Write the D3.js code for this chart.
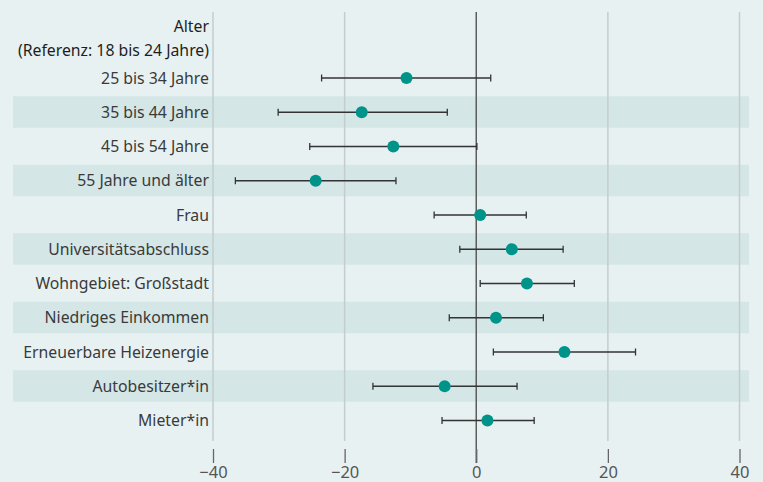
<!DOCTYPE html>
<html>
<head>
<meta charset="utf-8">
<script src="https://cdn.jsdelivr.net/npm/d3@7"></script>
<style>
  html, body { margin: 0; padding: 0; background: #e8f1f2; }
  svg { display: block; font-family: "Noto Sans", "Open Sans", sans-serif; }
</style>
</head>
<body>
<svg id="chart" width="763" height="482"></svg>
<script>
// Regression coefficients with confidence intervals
const categories = [
  "25 bis 34 Jahre",
  "35 bis 44 Jahre",
  "45 bis 54 Jahre",
  "55 Jahre und älter",
  "Frau",
  "Universitätsabschluss",
  "Wohngebiet: Großstadt",
  "Niedriges Einkommen",
  "Erneuerbare Heizenergie",
  "Autobesitzer*in",
  "Mieter*in"
];
const estimates = [-10.6, -17.4, -12.6, -24.4, 0.6, 5.4, 7.7, 3.0, 13.4, -4.8, 1.7];
const lower     = [-23.5, -30.1, -25.3, -36.6, -6.4, -2.5, 0.6, -4.1, 2.6, -15.7, -5.2];
const upper     = [2.2, -4.4, 0.1, -12.2, 7.6, 13.2, 14.9, 10.2, 24.2, 6.2, 8.8];
const headerLines = ["Alter", "(Referenz: 18 bis 24 Jahre)"];
const xTicks = [-40, -20, 0, 20, 40];

const svg = d3.select("#chart");

const x = d3.scaleLinear().domain([-40, 40]).range([213, 739.5]);
const y = d3.scalePoint().domain(categories).range([78, 420.5]);

// alternating row shading
svg.append("g").selectAll("rect")
  .data(categories.filter((d, i) => i % 2 === 1))
  .join("rect")
  .attr("x", 13)
  .attr("width", 749 - 13)
  .attr("y", d => y(d) - 16)
  .attr("height", 31.5)
  .attr("fill", "#d4e6e6");

// vertical gridlines
svg.append("g").selectAll("line")
  .data(xTicks.filter(t => t !== 0))
  .join("line")
  .attr("x1", d => x(d)).attr("x2", d => x(d))
  .attr("y1", 12).attr("y2", 441)
  .attr("stroke", "#c4ccce")
  .attr("stroke-width", 1.5);

// zero reference line
svg.append("line")
  .attr("x1", x(0)).attr("x2", x(0))
  .attr("y1", 12).attr("y2", 463)
  .attr("stroke", "#5c5c5c")
  .attr("stroke-width", 1.5);

// bottom axis
const axis = d3.axisBottom(x)
  .tickValues(xTicks)
  .tickSize(14)
  .tickPadding(3)
  .tickFormat(d => d < 0 ? "\u2212" + Math.abs(d) : d);
const gAxis = svg.append("g")
  .attr("transform", "translate(0,449)")
  .call(axis);
gAxis.select(".domain").remove();
gAxis.selectAll(".tick line").attr("stroke", "#666").attr("stroke-width", 1.3);
gAxis.selectAll(".tick text")
  .attr("fill", "#555")
  .attr("font-size", 16.5)
  .attr("font-family", "'Noto Sans', sans-serif");

// header for the age group
svg.append("g").selectAll("text")
  .data(headerLines)
  .join("text")
  .attr("x", 209)
  .attr("y", (d, i) => 32 + i * 23.5)
  .attr("text-anchor", "end")
  .attr("fill", "#1e1e1e")
  .attr("font-size", 15.8)
  .text(d => d);

// category labels
svg.append("g").selectAll("text")
  .data(categories)
  .join("text")
  .attr("x", 209)
  .attr("y", d => y(d) + 5.5)
  .attr("text-anchor", "end")
  .attr("fill", "#3a3a3a")
  .attr("font-size", 15.8)
  .text(d => d);

const rows = categories.map((c, i) => ({ c, est: estimates[i], lo: lower[i], hi: upper[i] }));

// confidence intervals
const ci = svg.append("g").attr("stroke", "#333").attr("stroke-width", 1.3);
ci.selectAll("line.bar")
  .data(rows).join("line").attr("class", "bar")
  .attr("x1", d => x(d.lo)).attr("x2", d => x(d.hi))
  .attr("y1", d => y(d.c)).attr("y2", d => y(d.c));
ci.selectAll("line.capl")
  .data(rows).join("line").attr("class", "capl")
  .attr("x1", d => x(d.lo)).attr("x2", d => x(d.lo))
  .attr("y1", d => y(d.c) - 3.5).attr("y2", d => y(d.c) + 3.5);
ci.selectAll("line.capr")
  .data(rows).join("line").attr("class", "capr")
  .attr("x1", d => x(d.hi)).attr("x2", d => x(d.hi))
  .attr("y1", d => y(d.c) - 3.5).attr("y2", d => y(d.c) + 3.5);

// point estimates
svg.append("g").selectAll("circle")
  .data(rows).join("circle")
  .attr("cx", d => x(d.est))
  .attr("cy", d => y(d.c))
  .attr("r", 6)
  .attr("fill", "#00938a");
</script>
</body>
</html>
